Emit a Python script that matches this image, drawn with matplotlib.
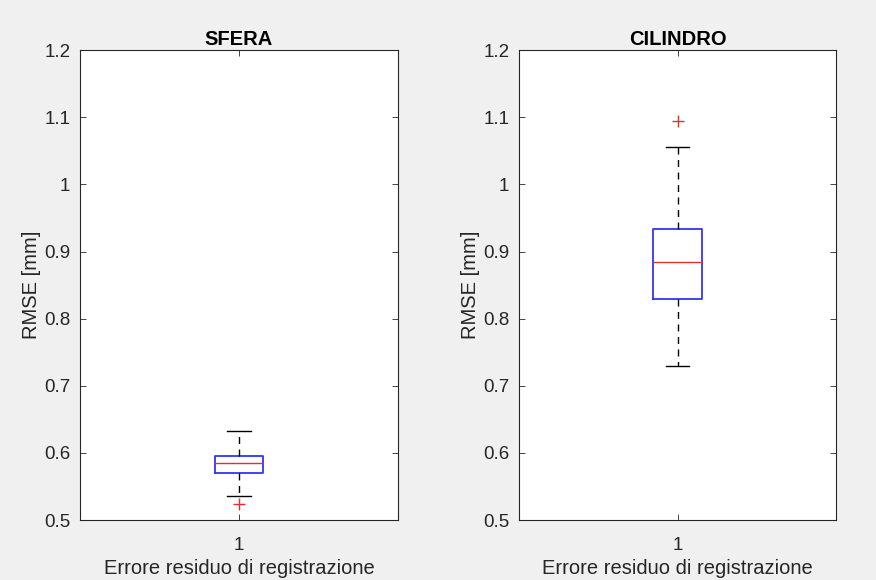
import matplotlib
matplotlib.use("Agg")
import matplotlib.pyplot as plt

plt.rcParams['font.family'] = ['Liberation Sans', 'DejaVu Sans']

# box statistics (RMSE in mm)
titles = ["SFERA", "CILINDRO"]
whislo = [0.536, 0.729]
q1 = [0.570, 0.829]
med = [0.585, 0.885]
q3 = [0.596, 0.933]
whishi = [0.633, 1.056]
fliers = [[0.524], [1.094]]

xlabel = "Errore residuo di registrazione"
ylabel = "RMSE [mm]"
yticks = [0.5, 0.6, 0.7, 0.8, 0.9, 1, 1.1, 1.2]
yticklabels = ["0.5", "0.6", "0.7", "0.8", "0.9", "1", "1.1", "1.2"]

fig = plt.figure(figsize=(8.76, 5.80), dpi=100, facecolor="#f0f0f0")
positions = [[0.0913, 0.1034, 0.363, 0.810], [0.5925, 0.1034, 0.362, 0.810]]
dark = (0.15, 0.15, 0.15)

for i in range(2):
    ax = fig.add_axes(positions[i])
    stats = [dict(whislo=whislo[i], q1=q1[i], med=med[i], q3=q3[i],
                  whishi=whishi[i], fliers=fliers[i], label="1")]
    ax.bxp(stats, positions=[1], widths=0.152, showfliers=True,
           boxprops=dict(color="#3333ff", linewidth=1.3),
           medianprops=dict(color="#e03030", linewidth=1.0),
           whiskerprops=dict(color="black", linestyle=(0, (5, 4)), linewidth=1.0),
           capprops=dict(color="black", linewidth=1.0),
           capwidths=0.075,
           flierprops=dict(marker="+", markeredgecolor="#e03030", markersize=8,
                           markeredgewidth=1.0, linestyle="none"))
    ax.set_xlim(0.5, 1.5)
    ax.set_ylim(0.5, 1.2)
    ax.set_yticks(yticks)
    ax.set_yticklabels(yticklabels)
    ax.set_xticks([1])
    ax.set_xticklabels(["1"])
    ax.tick_params(direction="in", top=True, right=True, length=4,
                   labelsize=13.5, colors=dark, width=0.6, pad=7)
    ax.tick_params(axis="x", pad=12)
    for sp in ax.spines.values():
        sp.set_color(dark)
        sp.set_linewidth(0.8)
    ax.set_title(titles[i], fontsize=14.5, fontweight="bold", color="black", pad=4)
    ax.set_xlabel(xlabel, fontsize=14.5, color=dark, labelpad=4)
    ax.set_ylabel(ylabel, fontsize=14.5, color=dark, labelpad=2)

fig.savefig("out.png", dpi=100, facecolor=fig.get_facecolor())
